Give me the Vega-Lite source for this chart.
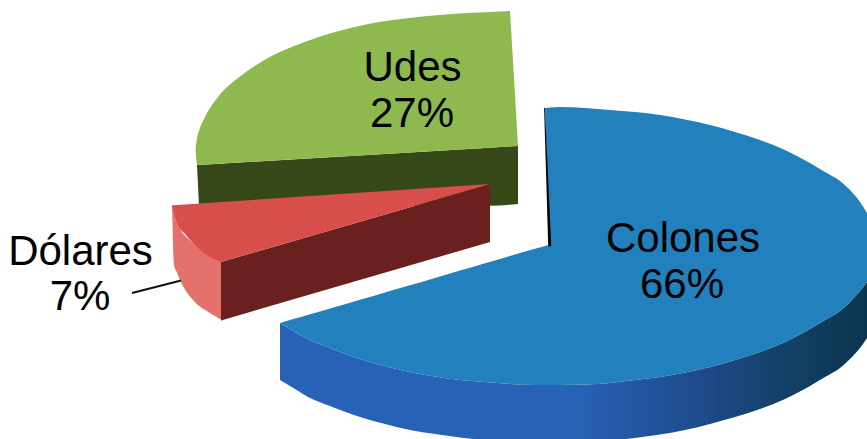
{
  "$schema": "https://vega.github.io/schema/vega-lite/v6.json",
  "width": 867,
  "height": 439,
  "padding": 0,
  "autosize": "none",
  "background": "white",
  "view": {"stroke": null},
  "datasets": {
    "side": [
      {"x":280,"y":323,"y2":380},{"x":295,"y":332,"y2":389},{"x":310,"y":340,"y2":398},{"x":330,"y":348,"y2":406},
      {"x":360,"y":359,"y2":417},{"x":385,"y":366,"y2":424},{"x":410,"y":372,"y2":430},{"x":435,"y":376.5,"y2":434},
      {"x":460,"y":380,"y2":437.5},{"x":485,"y":382,"y2":440},{"x":510,"y":384,"y2":441},{"x":535,"y":385,"y2":442},
      {"x":560,"y":385,"y2":442},{"x":585,"y":384.5,"y2":442},{"x":610,"y":383,"y2":440.5},{"x":635,"y":380,"y2":438},
      {"x":660,"y":377,"y2":434.5},{"x":685,"y":372.5,"y2":430},{"x":710,"y":367,"y2":424},{"x":735,"y":360,"y2":417},
      {"x":760,"y":352,"y2":409},{"x":785,"y":342,"y2":399},{"x":810,"y":329,"y2":386},{"x":825,"y":320,"y2":377},
      {"x":840,"y":311,"y2":368},{"x":850,"y":302,"y2":359},{"x":860,"y":291,"y2":348},{"x":867,"y":282,"y2":338}
    ],
    "faces": [
      {"piece":"udes-wall","surface":"Udes wall","x":197,"y":165,"y2":165},
      {"piece":"udes-wall","surface":"Udes wall","x":199,"y":164.9,"y2":206},
      {"piece":"udes-wall-2","surface":"Udes wall","x":199,"y":164.9,"y2":206},
      {"piece":"udes-wall-2","surface":"Udes wall","x":490,"y":147.7,"y2":205.7},
      {"piece":"udes-wall-2","surface":"Udes wall","x":518,"y":146,"y2":204},

      {"piece":"udes-top","surface":"Udes","x":195.7,"y":147,"y2":152},
      {"piece":"udes-top","surface":"Udes","x":197.3,"y":137,"y2":165},
      {"piece":"udes-top","surface":"Udes","x":200,"y":128,"y2":164.8},
      {"piece":"udes-top","surface":"Udes","x":205,"y":117,"y2":164.5},
      {"piece":"udes-top","surface":"Udes","x":218,"y":97,"y2":163.7},
      {"piece":"udes-top","surface":"Udes","x":242,"y":75,"y2":162.3},
      {"piece":"udes-top","surface":"Udes","x":268,"y":58,"y2":160.8},
      {"piece":"udes-top","surface":"Udes","x":302,"y":43,"y2":158.8},
      {"piece":"udes-top","surface":"Udes","x":335,"y":32,"y2":156.8},
      {"piece":"udes-top","surface":"Udes","x":368,"y":24,"y2":154.9},
      {"piece":"udes-top","surface":"Udes","x":418,"y":17,"y2":152},
      {"piece":"udes-top","surface":"Udes","x":468,"y":13,"y2":149},
      {"piece":"udes-top","surface":"Udes","x":510,"y":11,"y2":146.5},
      {"piece":"udes-tip","surface":"Udes","x":510,"y":11,"y2":146.5},
      {"piece":"udes-tip","surface":"Udes","x":518,"y":146,"y2":146},

      {"piece":"dolares-rim","surface":"Dólares rim","x":172,"y":205,"y2":205},
      {"piece":"dolares-rim","surface":"Dólares rim","x":174,"y":214,"y2":265},
      {"piece":"dolares-rim","surface":"Dólares rim","x":176.7,"y":223,"y2":272},
      {"piece":"dolares-rim","surface":"Dólares rim","x":180,"y":229,"y2":280},
      {"piece":"dolares-rim","surface":"Dólares rim","x":193,"y":243,"y2":300},
      {"piece":"dolares-rim","surface":"Dólares rim","x":210,"y":256,"y2":313},
      {"piece":"dolares-rim","surface":"Dólares rim","x":223,"y":262.5,"y2":320.7},

      {"piece":"dolares-wall","surface":"Dólares wall","x":221,"y":262,"y2":320.5},
      {"piece":"dolares-wall","surface":"Dólares wall","x":490,"y":184,"y2":242},

      {"piece":"dolares-top","surface":"Dólares","x":171.7,"y":205.3,"y2":205.3},
      {"piece":"dolares-top","surface":"Dólares","x":176.7,"y":205,"y2":223},
      {"piece":"dolares-top","surface":"Dólares","x":185,"y":204.4,"y2":234},
      {"piece":"dolares-top","surface":"Dólares","x":193,"y":203.9,"y2":243},
      {"piece":"dolares-top","surface":"Dólares","x":206.7,"y":203,"y2":255},
      {"piece":"dolares-top","surface":"Dólares","x":221,"y":202,"y2":262},
      {"piece":"dolares-tip","surface":"Dólares","x":221,"y":202,"y2":262},
      {"piece":"dolares-tip","surface":"Dólares","x":490,"y":184,"y2":184},

      {"piece":"colones-left","surface":"Colones","x":280,"y":323,"y2":323},
      {"piece":"colones-left","surface":"Colones","x":295,"y":318.6,"y2":332},
      {"piece":"colones-left","surface":"Colones","x":310,"y":314.3,"y2":340},
      {"piece":"colones-left","surface":"Colones","x":330,"y":308.5,"y2":348},
      {"piece":"colones-left","surface":"Colones","x":360,"y":299.7,"y2":359},
      {"piece":"colones-left","surface":"Colones","x":385,"y":292.4,"y2":366},
      {"piece":"colones-left","surface":"Colones","x":410,"y":285.2,"y2":372},
      {"piece":"colones-left","surface":"Colones","x":435,"y":277.9,"y2":376.5},
      {"piece":"colones-left","surface":"Colones","x":460,"y":270.6,"y2":380},
      {"piece":"colones-left","surface":"Colones","x":485,"y":263.3,"y2":382},
      {"piece":"colones-left","surface":"Colones","x":510,"y":256,"y2":384},
      {"piece":"colones-left","surface":"Colones","x":535,"y":248.8,"y2":385},
      {"piece":"colones-left","surface":"Colones","x":550,"y":244.4,"y2":385},

      {"piece":"colones-notch","surface":"Colones","x":545,"y":108,"y2":108},
      {"piece":"colones-notch","surface":"Colones","x":550,"y":107.5,"y2":245},

      {"piece":"colones-right","surface":"Colones","x":550,"y":107.5,"y2":385},
      {"piece":"colones-right","surface":"Colones","x":560,"y":107,"y2":385},
      {"piece":"colones-right","surface":"Colones","x":585,"y":108,"y2":384.5},
      {"piece":"colones-right","surface":"Colones","x":610,"y":110,"y2":383},
      {"piece":"colones-right","surface":"Colones","x":635,"y":112,"y2":380},
      {"piece":"colones-right","surface":"Colones","x":660,"y":115,"y2":377},
      {"piece":"colones-right","surface":"Colones","x":685,"y":119.5,"y2":372.5},
      {"piece":"colones-right","surface":"Colones","x":710,"y":125,"y2":367},
      {"piece":"colones-right","surface":"Colones","x":735,"y":132,"y2":360},
      {"piece":"colones-right","surface":"Colones","x":760,"y":140,"y2":352},
      {"piece":"colones-right","surface":"Colones","x":785,"y":150,"y2":342},
      {"piece":"colones-right","surface":"Colones","x":810,"y":163,"y2":329},
      {"piece":"colones-right","surface":"Colones","x":825,"y":172,"y2":320},
      {"piece":"colones-right","surface":"Colones","x":840,"y":181,"y2":311},
      {"piece":"colones-right","surface":"Colones","x":850,"y":190,"y2":302},
      {"piece":"colones-right","surface":"Colones","x":860,"y":202,"y2":291},
      {"piece":"colones-right","surface":"Colones","x":867,"y":213,"y2":282}
    ],
    "edge": [
      {"x":544.5,"y":108,"w":0.8},
      {"x":549.7,"y":245,"w":3}
    ],
    "leader": [
      {"x":132,"y":293},
      {"x":181,"y":280.5}
    ],
    "labels": [
      {"text":"Udes","x":412.5,"y":81},
      {"text":"27%","x":412,"y":127},
      {"text":"Colones","x":683,"y":252},
      {"text":"66%","x":682,"y":298},
      {"text":"Dólares","x":80.5,"y":265},
      {"text":"7%","x":80,"y":310}
    ]
  },
  "encoding": {
    "x": {"field":"x","type":"quantitative","axis":null,"scale":{"domain":[0,867],"nice":false,"zero":false}},
    "y": {"field":"y","type":"quantitative","axis":null,"scale":{"domain":[439,0],"nice":false,"zero":false}}
  },
  "layer": [
    {
      "data": {"name":"side"},
      "mark": {
        "type":"area",
        "clip":true,
        "interpolate":"monotone",
        "color":{
          "gradient":"linear","x1":0,"y1":0,"x2":1,"y2":0,
          "stops":[
            {"offset":0,"color":"#2862b6"},
            {"offset":0.5,"color":"#2862b6"},
            {"offset":0.72,"color":"#1e4a88"},
            {"offset":0.88,"color":"#123f63"},
            {"offset":1,"color":"#0a3550"}
          ]
        }
      },
      "encoding": {"y2":{"field":"y2"}}
    },
    {
      "data": {"name":"faces"},
      "mark": {"type":"area","clip":true,"interpolate":"monotone"},
      "encoding": {
        "y": {"field":"y","type":"quantitative","stack":null},
        "y2": {"field":"y2"},
        "detail": {"field":"piece"},
        "color": {
          "field":"surface","type":"nominal","legend":null,
          "scale":{
            "domain":["Colones","Udes","Udes wall","Dólares","Dólares wall","Dólares rim"],
            "range":["#2280bd","#8db94f","#374818","#d84e4a","#6a201e","#e5716d"]
          }
        }
      }
    },
    {
      "data": {"name":"edge"},
      "mark": {"type":"trail","color":"#000000"},
      "encoding": {"size":{"field":"w","type":"quantitative","scale":null,"legend":null}}
    },
    {
      "data": {"name":"leader"},
      "mark": {"type":"line","color":"#111111","strokeWidth":2},
      "encoding": {}
    },
    {
      "data": {"name":"labels"},
      "mark": {"type":"text","font":"Liberation Sans","fontSize":42,"color":"#000000","align":"center","baseline":"alphabetic"},
      "encoding": {"text":{"field":"text"}}
    }
  ]
}
